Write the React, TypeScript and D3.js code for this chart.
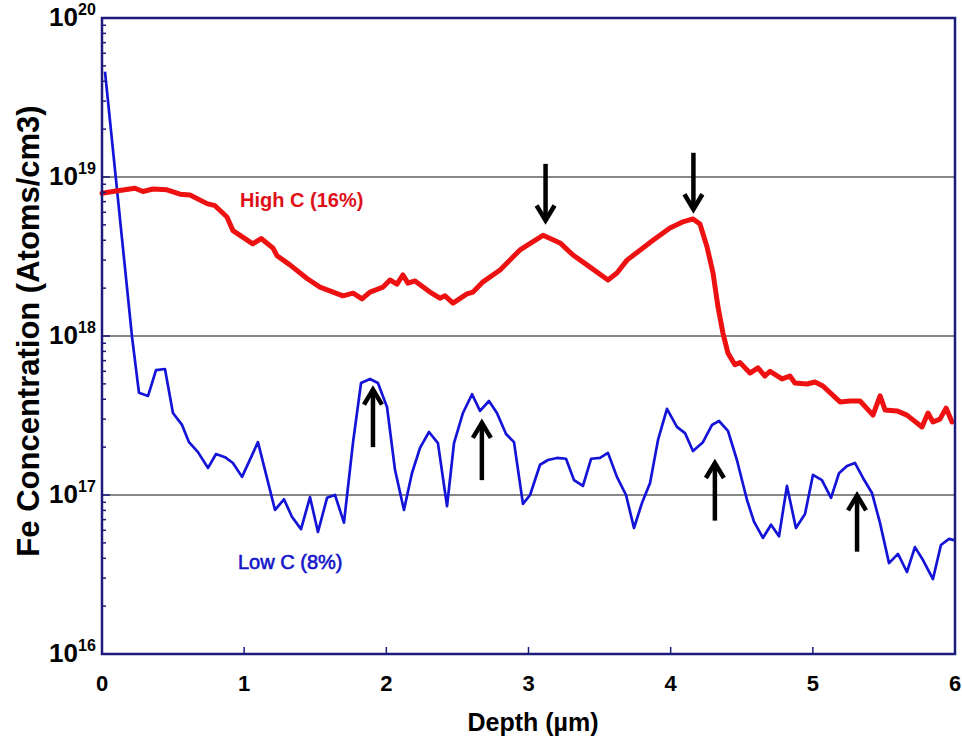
import React from "react";
import * as d3 from "d3";

// High C (16%) profile
const depthHigh = [0, 0.077, 0.232, 0.288, 0.359, 0.457, 0.549, 0.619, 0.739, 0.795, 0.879, 0.921, 1.006, 1.06, 1.12, 1.203, 1.231, 1.322, 1.442, 1.533, 1.695, 1.766, 1.829, 1.885, 1.977, 2.026, 2.075, 2.117, 2.152, 2.202, 2.307, 2.377, 2.413, 2.469, 2.567, 2.61, 2.68, 2.8, 2.94, 3.102, 3.222, 3.313, 3.411, 3.559, 3.622, 3.693, 3.876, 3.995, 4.08, 4.157, 4.206, 4.256, 4.298, 4.333, 4.368, 4.403, 4.452, 4.488, 4.558, 4.614, 4.663, 4.699, 4.783, 4.839, 4.874, 4.959, 5.015, 5.071, 5.191, 5.261, 5.332, 5.423, 5.473, 5.508, 5.592, 5.662, 5.768, 5.81, 5.845, 5.894, 5.937, 5.979];
const concHigh = [7.9e18, 8.1e18, 8.5e18, 8.1e18, 8.4e18, 8.3e18, 7.8e18, 7.7e18, 6.8e18, 6.6e18, 5.6e18, 4.6e18, 4.1e18, 3.8e18, 4.1e18, 3.57e18, 3.2e18, 2.8e18, 2.3e18, 2.03e18, 1.79e18, 1.86e18, 1.71e18, 1.89e18, 2.03e18, 2.25e18, 2.12e18, 2.42e18, 2.15e18, 2.22e18, 1.89e18, 1.73e18, 1.79e18, 1.61e18, 1.84e18, 1.89e18, 2.19e18, 2.6e18, 3.48e18, 4.3e18, 3.85e18, 3.23e18, 2.8e18, 2.25e18, 2.49e18, 3.0e18, 4.0e18, 4.78e18, 5.2e18, 5.45e18, 5.06e18, 3.63e18, 2.49e18, 1.52e18, 1.04e18, 7.8e17, 6.6e17, 6.8e17, 5.85e17, 6.3e17, 5.6e17, 6.0e17, 5.37e17, 5.6e17, 5.06e17, 4.99e17, 5.14e17, 4.85e17, 3.85e17, 3.9e17, 3.9e17, 3.18e17, 4.2e17, 3.43e17, 3.38e17, 3.18e17, 2.68e17, 3.28e17, 2.88e17, 3.0e17, 3.52e17, 2.88e17];

// Low C (8%) profile
const depthLow = [0.021, 0.211, 0.26, 0.324, 0.38, 0.443, 0.499, 0.563, 0.612, 0.675, 0.746, 0.802, 0.865, 0.921, 0.985, 1.097, 1.217, 1.28, 1.336, 1.4, 1.463, 1.519, 1.583, 1.639, 1.702, 1.766, 1.822, 1.885, 1.941, 2.005, 2.061, 2.124, 2.18, 2.237, 2.3, 2.363, 2.427, 2.476, 2.539, 2.603, 2.659, 2.722, 2.778, 2.842, 2.898, 2.961, 3.011, 3.081, 3.137, 3.2, 3.264, 3.32, 3.383, 3.44, 3.503, 3.559, 3.622, 3.686, 3.742, 3.798, 3.855, 3.911, 3.974, 4.044, 4.101, 4.157, 4.227, 4.291, 4.34, 4.403, 4.466, 4.537, 4.586, 4.649, 4.706, 4.762, 4.818, 4.881, 4.945, 5.001, 5.064, 5.128, 5.184, 5.24, 5.296, 5.353, 5.416, 5.472, 5.536, 5.599, 5.662, 5.718, 5.775, 5.845, 5.901, 5.958, 5.993];
const concLow = [4.6e19, 9.9e17, 4.4e17, 4.2e17, 6.1e17, 6.2e17, 3.28e17, 2.76e17, 2.15e17, 1.86e17, 1.48e17, 1.81e17, 1.73e17, 1.59e17, 1.3e17, 2.15e17, 8.05e16, 9.4e16, 7.3e16, 6.1e16, 9.7e16, 5.85e16, 9.6e16, 1.0e17, 6.7e16, 2.15e17, 5.06e17, 5.37e17, 5.06e17, 3.57e17, 1.44e17, 8.05e16, 1.37e17, 1.98e17, 2.49e17, 2.12e17, 8.5e16, 2.12e17, 3.28e17, 4.3e17, 3.38e17, 3.9e17, 3.28e17, 2.42e17, 2.15e17, 8.8e16, 1.0e17, 1.55e17, 1.66e17, 1.71e17, 1.69e17, 1.24e17, 1.14e17, 1.69e17, 1.71e17, 1.84e17, 1.3e17, 1.0e17, 6.2e16, 8.9e16, 1.19e17, 2.22e17, 3.48e17, 2.68e17, 2.45e17, 1.89e17, 2.15e17, 2.76e17, 2.92e17, 2.53e17, 1.66e17, 9.3e16, 6.8e16, 5.37e16, 6.5e16, 5.5e16, 1.14e17, 6.2e16, 7.6e16, 1.34e17, 1.24e17, 9.6e16, 1.37e17, 1.52e17, 1.59e17, 1.28e17, 1.03e17, 6.7e16, 3.73e16, 4.26e16, 3.28e16, 4.7e16, 3.9e16, 2.96e16, 4.85e16, 5.3e16, 5.2e16];

// arrows: depth, tail value, tip value
const arrowDepth = [3.12, 4.16, 1.906, 2.672, 4.311, 5.311];
const arrowTail = [1.21e19, 1.42e19, 2.0e17, 1.24e17, 6.9e16, 4.4e16];
const arrowTip = [5.1e18, 6.0e18, 4.8e17, 2.97e17, 1.66e17, 1.04e17];

const xTicks = [0, 1, 2, 3, 4, 5, 6];
const yDecades = [16, 17, 18, 19, 20];
const gridDecades = [17, 18, 19];

const W = 962;
const H = 742;
const margin = { left: 102, right: 7, top: 18, bottom: 88 };
const navy = "#1b1b7c";
const font = "Arial, 'Liberation Sans', Helvetica, sans-serif";

export default function App() {
  const x = d3.scaleLinear().domain([0, 6]).range([margin.left, W - margin.right]);
  const y = d3.scaleLog().domain([1e16, 1e20]).range([H - margin.bottom, margin.top]);

  const line = d3
    .line<[number, number]>()
    .x((d) => x(d[0]))
    .y((d) => y(d[1]));

  const high = depthHigh.map((d, i) => [d, concHigh[i]] as [number, number]);
  const low = depthLow.map((d, i) => [d, concLow[i]] as [number, number]);

  const minor: number[] = [];
  for (let e = 16; e < 20; e++) {
    for (let m = 2; m <= 9; m++) minor.push(m * Math.pow(10, e));
  }

  const x0 = x(0);
  const x1 = x(6);
  const yb = y(1e16);
  const yt = y(1e20);

  return (
    <svg width={W} height={H} style={{ position: "absolute", left: 0, top: 0, background: "#fff" }} fontFamily={font}>
      {/* grid */}
      {gridDecades.map((e) => (
        <line key={e} x1={x0} x2={x1} y1={y(Math.pow(10, e))} y2={y(Math.pow(10, e))} stroke="#111" strokeWidth={1.2} />
      ))}

      {/* curves */}
      <path d={line(low) || ""} fill="none" stroke="#1414d8" strokeWidth={2.7} strokeLinejoin="round" />
      <path d={line(high) || ""} fill="none" stroke="#ee1111" strokeWidth={5} strokeLinejoin="round" strokeLinecap="round" />

      {/* arrows */}
      {arrowDepth.map((d, i) => {
        const ax = x(d);
        const ty = y(arrowTail[i]);
        const py = y(arrowTip[i]);
        const dir = py > ty ? 1 : -1;
        return (
          <g key={i} stroke="#000" strokeWidth={4.5} fill="none">
            <line x1={ax} x2={ax} y1={ty} y2={py - dir * 3} />
            <polyline points={`${ax - 9},${py - dir * 18} ${ax},${py - dir * 3} ${ax + 9},${py - dir * 18}`} strokeLinejoin="miter" />
          </g>
        );
      })}

      {/* frame */}
      <rect x={x0} y={yt} width={x1 - x0} height={yb - yt} fill="none" stroke={navy} strokeWidth={2.5} />

      {/* y ticks */}
      {minor.map((v, i) => (
        <line key={i} x1={x0} x2={x0 + 4} y1={y(v)} y2={y(v)} stroke={navy} strokeWidth={1.5} />
      ))}
      {yDecades.map((e) => (
        <line key={e} x1={x0} x2={x0 + 8} y1={y(Math.pow(10, e))} y2={y(Math.pow(10, e))} stroke={navy} strokeWidth={1.5} />
      ))}
      {yDecades.map((e) => {
        const yy = y(Math.pow(10, e));
        return (
          <g key={e} fontWeight="bold" fill="#000">
            <text x={78} y={yy + 8} fontSize={26} textAnchor="end">10</text>
            <text x={78} y={yy - 3} fontSize={16}>{e}</text>
          </g>
        );
      })}

      {/* x ticks */}
      {xTicks.map((t) => (
        <g key={t}>
          <line x1={x(t)} x2={x(t)} y1={yb} y2={yb - 7} stroke={navy} strokeWidth={1.5} />
          <text x={x(t)} y={691} fontSize={22} fontWeight="bold" textAnchor="middle" fill="#000">{t}</text>
        </g>
      ))}

      {/* axis titles */}
      <text x={533} y={731} fontSize={25} fontWeight="bold" textAnchor="middle" fill="#000">Depth (µm)</text>
      <text transform={`translate(39,${331}) rotate(-90)`} fontSize={31} fontWeight="bold" textAnchor="middle" fill="#000">
        Fe Concentration (Atoms/cm3)
      </text>

      {/* series labels */}
      <text x={240} y={207} fontSize={20} fontWeight="bold" fill="#e01018">High C (16%)</text>
      <text x={238} y={569} fontSize={20} fill="#1414c8" stroke="#1414c8" strokeWidth={0.6}>Low C (8%)</text>
    </svg>
  );
}
